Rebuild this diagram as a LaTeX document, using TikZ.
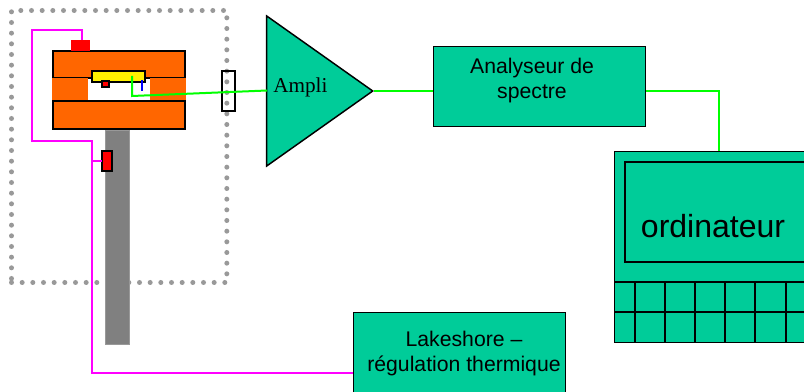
\documentclass[tikz,border=0pt]{standalone}
\usepackage{fontspec}
\setmainfont{Liberation Sans}
\newfontfamily\amplifont{Liberation Serif}
\usepackage{xcolor}
\usetikzlibrary{positioning, shapes.geometric}
\definecolor{teal1}{HTML}{00CC99}
\definecolor{orange1}{HTML}{FF6600}
\definecolor{magenta1}{HTML}{FF00FF}
\definecolor{green1}{HTML}{00FF00}

\begin{document}
\begin{tikzpicture}[
        x=0.75pt, y=-0.75pt,
        block/.style={draw, fill=teal1, anchor=north west, align=center, line width=1.1pt, inner sep=0pt},
        piece/.style={anchor=north west, inner sep=0pt, outer sep=0pt},
        heat/.style={draw=magenta1, line width=1.5pt},
        signal/.style={draw=green1, line width=1.5pt},
        frame/.style={draw, line width=1.5pt}
    ]
        \useasboundingbox (0,0) rectangle (804,392);

        % Enceinte
        \node[piece, draw=black!40, line width=3.75pt, line cap=round, dash pattern=on 0pt off 8pt,
              minimum width=161.5pt, minimum height=204pt] (enceinte) at (11.5,10.5) {};

        % Canne
        \node[piece, fill=black!50, draw=black!40, line width=0.5pt, minimum width=18pt, minimum height=160.5pt] (canne) at (105,130) {};

        % Four
        \node[piece, fill=orange1, frame, minimum width=99pt, minimum height=20.25pt] (fourhaut) at (53,51) {};
        \node[piece, fill=orange1, minimum width=27pt, minimum height=16.5pt] (fourg) at (52,78) {};
        \node[piece, fill=orange1, minimum width=27pt, minimum height=16.5pt] (fourd) at (150,78) {};
        \node[piece, fill=orange1, frame, minimum width=99pt, minimum height=21pt] (fourbas) at (53,101) {};
        \node[piece, fill=red, minimum width=14.25pt, minimum height=8.25pt] (chauffage) at (71,40) {};

        % Echantillon
        \node[piece, fill=yellow, frame, minimum width=39.75pt, minimum height=8.25pt] (echantillon) at (92,71) {};
        \node[piece, fill=red, draw, line width=1pt, minimum width=5.25pt, minimum height=4.5pt] (capteur) at (102,81) {};
        \node[piece, fill=red, frame, minimum width=7.5pt, minimum height=15pt] (sonde) at (102,151) {};

        % Passage
        \node[piece, frame, minimum width=9.75pt, minimum height=30pt] (passage) at (222,71) {};

        % Appareils
        \node[draw, fill=teal1, isosceles triangle, isosceles triangle apex angle=70.5, line width=1.1pt,
              inner sep=0pt, minimum height=79.5pt, isosceles triangle stretches, minimum width=112.5pt,
              shape border rotate=0, anchor=apex] (ampli) at (374,91) {};
        \node[font=\amplifont\fontsize{15.9}{18}\selectfont, anchor=west, inner sep=0pt] (amplilabel) at (273,87) {Ampli};

        \node[block, minimum width=159pt, minimum height=60pt] (analyseur) at (433,46) {};
        \node[font=\fontsize{15.9}{18.75}\selectfont, align=center, inner sep=0pt] (analyseurlabel) at (532,81) {Analyseur de\\spectre};

        \node[block, minimum width=159pt, minimum height=60pt] (lakeshore) at (353,312) {};
        \node[font=\fontsize{15.9}{18.75}\selectfont, align=center, inner sep=0pt] (lakeshorelabel) at (464,354) {Lakeshore --\\régulation thermique};

        \node[block, minimum width=165pt, minimum height=143.25pt] (ordi) at (614,151) {};
        \node[piece, frame, minimum width=165pt, minimum height=75pt] (ecran) at (625,162) {};
        \node[font=\fontsize{24}{27}\selectfont, inner sep=0pt] (ordilabel) at (713,226) {ordinateur};

        % Clavier
        \coordinate (clavg1) at (614,282);
        \coordinate (clavd1) at (840,282);
        \coordinate (clavg2) at (614,312);
        \coordinate (clavd2) at (840,312);
        \draw[line width=1.1pt] (clavg1) -- (clavd1);
        \draw[line width=1.1pt] (clavg2) -- (clavd2);
        \foreach \xk in {635,665,695,725,755,786}
            \draw[line width=1.1pt] (\xk,282) -- (\xk,342);

        % Liaisons
        \coordinate (c1) at (82,30);
        \coordinate (c2) at (32,30);
        \coordinate (c3) at (32,141);
        \coordinate (c4) at (92,141);
        \coordinate (c5) at (92,161);
        \coordinate (c6) at (92,373);
        \draw[heat] (chauffage.north -| c1) -- (c1) -- (c2) -- (c3) -- (c4) -- (c5) -- (c6) -- (c6 -| lakeshore.west);
        \draw[heat] (c5) -- (sonde.west);

        \coordinate (s1) at (132,76);
        \coordinate (s2) at (132,96);
        \coordinate (s3) at (267,90.5);
        \draw[signal] (s1) -- (s2) -- (s3);
        \draw[signal] (ampli.apex) -- (analyseur.west |- ampli.apex);
        \coordinate (s4) at (719,91);
        \draw[signal] (analyseur.east |- s4) -- (s4) -- (s4 |- ordi.north);

        \coordinate (b1) at (142,80);
        \coordinate (b2) at (142,91);
        \draw[blue, line width=1.5pt] (b1) -- (b2);
    \end{tikzpicture}
\end{document}
